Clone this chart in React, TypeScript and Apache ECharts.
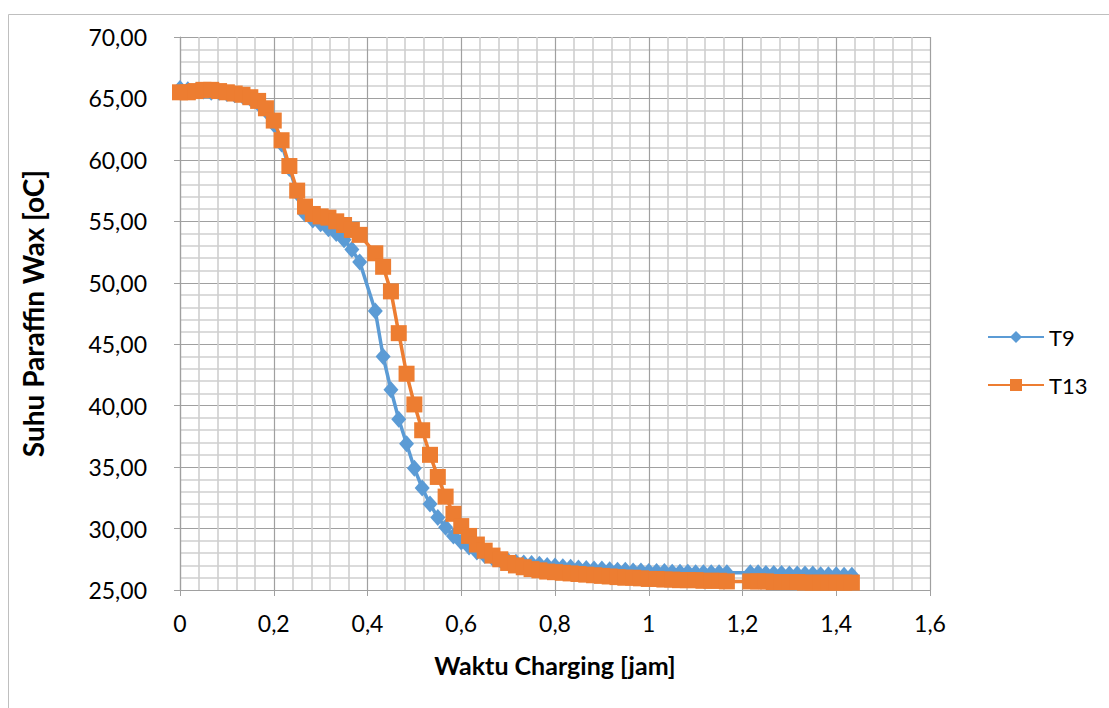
import React, { useEffect, useRef } from "react";
import * as echarts from "echarts";

// time of each reading, in minutes (converted to hours for the x axis)
const minutes: number[] = [
  0, 1, 2, 3, 4, 5, 6, 7, 8, 9, 10, 11, 12, 13, 14, 15, 16, 17, 18, 19, 20, 21, 22, 23,
  25, 26, 27, 28, 29, 30, 31, 32, 33, 34, 35, 36, 37, 38, 39, 40, 41, 42, 43, 44, 45, 46, 47,
  48, 49, 50, 51, 52, 53, 54, 55, 56, 57, 58, 59, 60, 61, 62, 63, 64, 65, 66, 67, 68, 69, 70,
  73, 74, 75, 76, 77, 78, 79, 80, 81, 82, 83, 84, 85, 86,
];

const t9: number[] = [
  65.8, 65.7, 65.6, 65.6, 65.5, 65.5, 65.4, 65.3, 65.2, 65.0, 64.6, 64.0, 62.9, 61.3, 59.3, 57.3,
  55.6, 55.1, 54.8, 54.4, 54.0, 53.5, 52.7, 51.7,
  47.7, 44.0, 41.3, 38.9, 36.9, 34.9, 33.3, 32.0, 30.9, 30.1, 29.4, 28.9, 28.5, 28.1, 27.8, 27.6,
  27.45, 27.35, 27.25, 27.2, 27.15, 27.1, 27.0, 26.95, 26.9, 26.85, 26.8, 26.75, 26.7, 26.7, 26.65,
  26.6, 26.6, 26.55, 26.55, 26.5, 26.5, 26.5, 26.45, 26.45, 26.45, 26.4, 26.4, 26.4, 26.4, 26.4,
  26.4, 26.4, 26.35, 26.35, 26.35, 26.3, 26.3, 26.3, 26.3, 26.25, 26.25, 26.25, 26.2, 26.2,
];

const t13: number[] = [
  65.5, 65.5, 65.6, 65.7, 65.7, 65.6, 65.5, 65.4, 65.3, 65.1, 64.8, 64.2, 63.2, 61.6, 59.5, 57.5,
  56.2, 55.6, 55.4, 55.3, 55.0, 54.7, 54.3, 53.9,
  52.4, 51.3, 49.3, 45.9, 42.6, 40.1, 38.0, 36.0, 34.2, 32.6, 31.2, 30.2, 29.4, 28.7, 28.2, 27.8,
  27.5, 27.2, 27.0, 26.85, 26.7, 26.6, 26.5, 26.45, 26.4, 26.35, 26.3, 26.25, 26.2, 26.15, 26.1,
  26.05, 26.0, 26.0, 25.95, 25.9, 25.9, 25.85, 25.85, 25.8, 25.8, 25.8, 25.75, 25.75, 25.75, 25.7,
  25.7, 25.7, 25.7, 25.65, 25.65, 25.65, 25.65, 25.6, 25.6, 25.6, 25.6, 25.6, 25.6, 25.6,
];

const seriesNames = ["T9", "T13"];
const xAxisTitle = "Waktu Charging [jam]";
const yAxisTitle = "Suhu Paraffin Wax [oC]";

const FONT = "Lato, 'Noto Sans', sans-serif";

export default function App() {
  const ref = useRef<HTMLDivElement>(null);
  useEffect(() => {
    if (!ref.current) return;
    const chart = echarts.init(ref.current, undefined, { renderer: "svg" });
    const hours = minutes.map((m) => m / 60);
    const d9 = hours.map((h, i) => [h, t9[i]]);
    const d13 = hours.map((h, i) => [h, t13[i]]);
    const major = { show: true, lineStyle: { color: "#a0a0a0", width: 1.2 } };
    const minor = { show: true, lineStyle: { color: "#cfcfcf", width: 1.6 } };
    chart.setOption({
      animation: false,
      backgroundColor: "#ffffff",
      textStyle: { fontFamily: FONT },
      graphic: [
        {
          type: "rect",
          shape: { x: 8.5, y: 14.5, width: 1200, height: 800 },
          style: { fill: "none", stroke: "#bfbfbf", lineWidth: 1 },
          z: -10,
        },
      ],
      grid: { left: 180, top: 37, right: 179, bottom: 118 },
      legend: {
        orient: "vertical",
        left: 982,
        top: 321,
        itemWidth: 56,
        itemHeight: 15,
        itemGap: 26,
        textStyle: { fontFamily: FONT, fontSize: 22, color: "#000" },
        data: seriesNames,
      },
      xAxis: {
        type: "value",
        min: 0,
        max: 1.6,
        interval: 0.2,
        axisLine: { show: true, onZero: false, lineStyle: { color: "#a0a0a0", width: 1.2 } },
        axisTick: { show: true, length: 6, lineStyle: { color: "#a0a0a0" } },
        minorTick: { show: false, splitNumber: 5 },
        splitLine: major,
        minorSplitLine: minor,
        axisLabel: {
          margin: 21,
          fontSize: 23,
          color: "#000",
          fontFamily: FONT,
          formatter: (v: number) => String(+v.toFixed(1)).replace(".", ","),
        },
        name: xAxisTitle,
        nameLocation: "middle",
        nameGap: 62,
        nameTextStyle: { fontSize: 25, fontWeight: "bold", color: "#000", fontFamily: FONT },
      },
      yAxis: {
        type: "value",
        min: 25,
        max: 70,
        interval: 5,
        axisLine: { show: true, lineStyle: { color: "#a0a0a0", width: 1.2 } },
        axisTick: { show: true, length: 6, lineStyle: { color: "#a0a0a0" } },
        minorTick: { show: false, splitNumber: 5 },
        splitLine: major,
        minorSplitLine: minor,
        axisLabel: {
          margin: 33,
          fontSize: 23,
          color: "#000",
          fontFamily: FONT,
          formatter: (v: number) => v.toFixed(2).replace(".", ","),
        },
        name: yAxisTitle,
        nameLocation: "middle",
        nameGap: 133,
        nameTextStyle: { fontSize: 28, fontWeight: "bold", color: "#000", fontFamily: FONT },
      },
      series: [
        {
          name: seriesNames[0],
          type: "line",
          data: d9,
          symbol: "diamond",
          symbolSize: [15, 17],
          showAllSymbol: true,
          lineStyle: { color: "#5b9bd5", width: 3.5 },
          itemStyle: { color: "#5b9bd5", borderWidth: 0 },
          z: 2,
        },
        {
          name: seriesNames[1],
          type: "line",
          data: d13,
          symbol: "rect",
          symbolSize: 16,
          showAllSymbol: true,
          lineStyle: { color: "#ed7d31", width: 3.5 },
          itemStyle: { color: "#ed7d31", borderWidth: 0 },
          z: 3,
        },
      ],
    });
    return () => chart.dispose();
  }, []);
  return (
    <div
      ref={ref}
      style={{ position: "fixed", left: 0, top: 0, width: 1109, height: 708, background: "#fff" }}
    />
  );
}
